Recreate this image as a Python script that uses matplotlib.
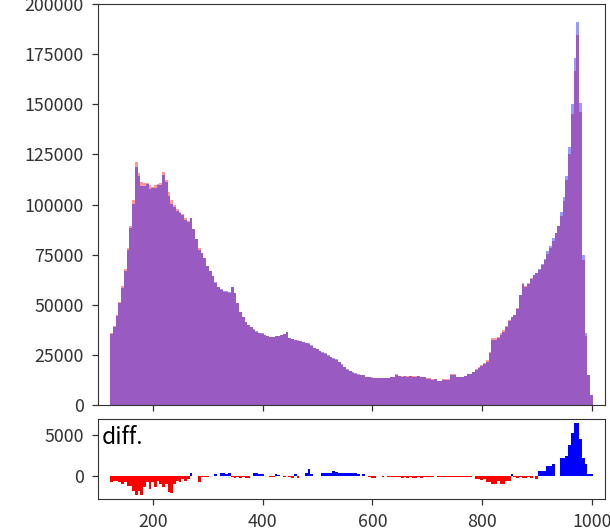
#!/usr/bin/env python3
# -*- coding: utf-8 -*-

import argparse
import numpy as np
import matplotlib
matplotlib.use( "Agg" )
import matplotlib.pyplot as plt

# ビンの左端と幅
bin_start = 122
bin_width = 5

# 赤側ヒストグラムのカウント (122 から 5 刻み)
counts_red = [
     36000,  39400,  44900,  51500,  59300,  67700,  78500,  89300, 102200, 121000,
    115900, 111400, 110500, 110800, 109500, 108900, 109800, 110300, 110500, 116000,
    112000, 106400, 102200,  99700,  97600,  96400,  95200,  93100,  91600,  93100,
     87600,  82600,  78100,  75900,  73500,  69500,  67000,  64500,  61000,  59000,
     57500,  56500,  56500,  56000,  59000,  56000,  51000,  46500,  44000,  41500,
     40000,  38800,  37500,  36500,  35700,  35500,  34900,  34300,  34000,  34000,
     34200,  34500,  35000,  35400,  36200,  33500,  33000,  32400,  32200,  32000,
     31300,  30800,  30200,  29500,  28600,  27800,  27000,  26000,  25400,  24400,
     23800,  23000,  22200,  21300,  20200,  18800,  17500,  16800,  16100,  15600,
     15200,  15000,  14800,  14200,  14100,  14000,  13600,  13600,  13600,  13600,
     13600,  13600,  14100,  14100,  15300,  14500,  14500,  14500,  14500,  14500,
     14500,  14500,  14500,  14100,  14100,  13300,  13300,  12800,  12800,  12000,
     12000,  12800,  12800,  12800,  15300,  15300,  14100,  14100,  14100,  14400,
     15500,  15500,  16600,  17800,  19100,  20000,  20800,  22400,  26500,  33500,
     33200,  34000,  35700,  37400,  39500,  42400,  43700,  44900,  48200,  55000,
     60700,  59300,  60700,  63200,  64800,  66000,  67300,  69800,  72300,  75500,
     78200,  82000,  85600,  89300,  94300, 101500, 112000, 125000, 145000, 166500,
    184500, 146000,  72500,  34500,  14800,   4800,
]

# 青 - 赤 の差分
counts_diff = [
     -800,  -600,  -600,  -800, -1000,  -800, -1200, -1200, -1800, -2400,
    -1800, -2400, -1400,  -800, -1600,  -800, -1400,  -600, -1000, -1400,
    -1000, -2000, -2100, -1000,  -600,  -800,  -400,  -600,  -400,   400,
        0,     0,  -800,  -200,  -200,  -200,     0,     0,   200,     0,
      300,   400,   200,   300,  -200,  -300,  -200,  -300,  -200,  -300,
     -300,     0,   400,   300,   200,   200,     0,     0,  -200,  -100,
      200,   100,     0,  -200,     0,  -200,  -300,   200,  -300,     0,
        0,   300,   900,   200,     0,     0,     0,   300,   300,   400,
      300,   600,   500,   300,   300,   400,   300,   300,   400,   300,
      200,     0,   200,     0,  -200,  -300,  -300,     0,     0,  -200,
        0,  -200,  -200,  -200,  -200,  -200,  -300,  -200,  -300,  -200,
     -300,  -300,  -200,  -300,  -200,  -200,  -200,  -200,     0,  -100,
     -100,  -100,  -100,  -100,  -100,  -100,  -100,  -100,  -100,  -100,
     -100,  -100,     0,  -400,  -400,  -500,  -400,  -800,  -800, -1000,
    -1000,  -600, -1000, -1000,  -600,  -600,   200,  -200,  -300,  -200,
     -300,  -300,  -200,  -300,     0,  -400,   600,   600,   600,  1200,
     1200,  1400,     0,     0,  2200,  2200,  2400,  3800,  5300,  6500,
     6500,  4500,  2200,  1400,   200,   200,
]

xlim        = [ 100, 1024 ]
xticks      = [ 200, 400, 600, 800, 1000 ]
main_ylim   = [ 0, 200000 ]
main_yticks = [ 0, 25000, 50000, 75000, 100000, 125000, 150000, 175000, 200000 ]
diff_yticks = [ 0, 5000 ]
diff_label  = "diff."

def out_hist_diff( edges, red, blue, diff, fpath="out.png", show=False ):
    
    fig = plt.figure( figsize=(6.1, 5.32), dpi=100 )
    ax_main = fig.add_axes( [ 0.1607, 0.2387, 0.8311, 0.7538 ] )
    ax_diff = fig.add_axes( [ 0.1607, 0.0620, 0.8311, 0.1498 ], sharex=ax_main )
    
    # 2 つのヒストグラムを半透明で重ねる
    ax_main.stairs( red,  edges, fill=True, color="red",  alpha=0.4, linewidth=0 )
    ax_main.stairs( blue, edges, fill=True, color="blue", alpha=0.4, linewidth=0 )
    ax_main.set_ylim( main_ylim )
    ax_main.set_yticks( main_yticks )
    ax_main.tick_params( labelbottom=False )
    
    # 差分 (正:青, 負:赤)
    centers = ( edges[:-1] + edges[1:] ) / 2
    colors = [ "blue" if d > 0 else "red" for d in diff ]
    ax_diff.bar( centers, diff, width=bin_width, color=colors, linewidth=0 )
    ax_diff.set_yticks( diff_yticks )
    ax_diff.text( 0.008, 0.91, diff_label, transform=ax_diff.transAxes,
                  ha="left", va="top", fontsize=16.5, color="black" )
    
    ax_main.set_xlim( xlim )
    ax_main.set_xticks( xticks )
    
    for ax in [ ax_main, ax_diff ]:
        ax.tick_params( length=4.3, width=0.9, pad=6, labelsize=12.8, colors="#333333" )
        for sp in ax.spines.values():
            sp.set_color( "#333333" )
    
    if show:
        plt.show()
    
    fig.savefig( fpath, dpi=100 )

def main( args ):
    
    red  = np.array( counts_red, dtype=float )
    diff = np.array( counts_diff, dtype=float )
    blue = red + diff
    
    edges = bin_start + bin_width * np.arange( len(red) + 1 )
    
    out_hist_diff( edges, red, blue, diff, fpath=args.fpath_out, show=args.show )

def parse_args():
    
    parser = argparse.ArgumentParser( description='hist diff' )
    parser.add_argument( '--fpath_out', default="out.png",                 help='save file path' )
    parser.add_argument( '--show',      default=False, action="store_true", help='show graph'     )
    
    return parser.parse_args()

if __name__ == "__main__":
    
    plt.rcParams['font.family'] = [ 'Noto Sans CJK JP', 'DejaVu Sans' ]
    
    args = parse_args()
    main( args )
